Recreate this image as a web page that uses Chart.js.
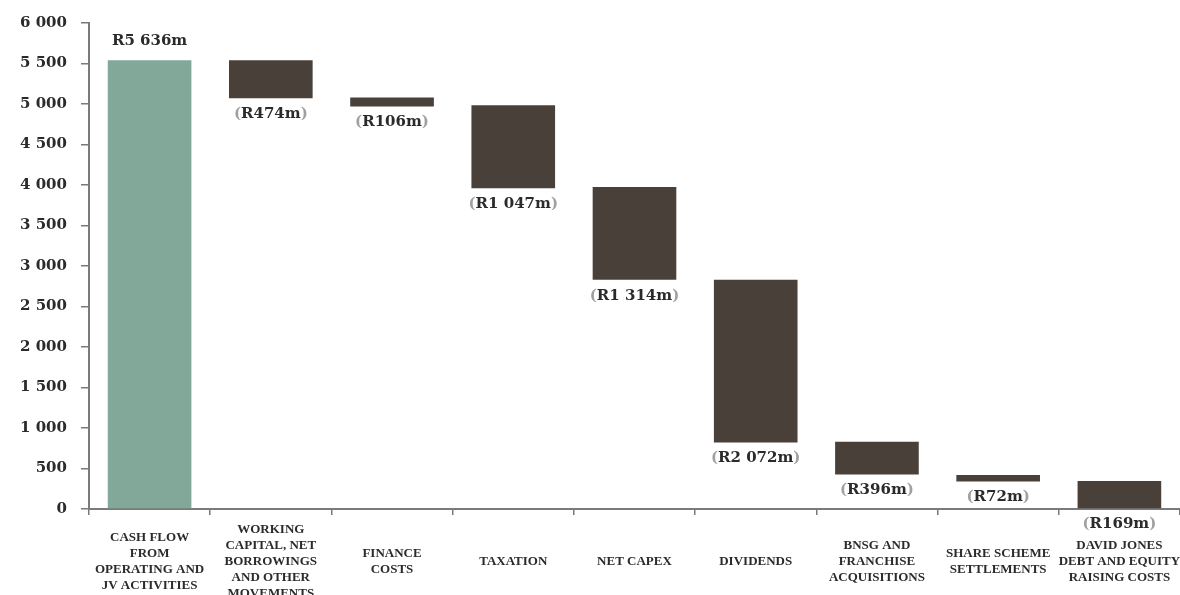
<!DOCTYPE html>
<html>
<head>
<meta charset="utf-8">
<script src="https://cdn.jsdelivr.net/npm/chart.js@4.4.1/dist/chart.umd.min.js"></script>
<style>
  html, body { margin: 0; padding: 0; background: #fff; overflow: hidden; }
  #wrap { position: relative; width: 1180px; height: 625px; }
</style>
</head>
<body>
<div id="wrap"><canvas id="cashChart"></canvas></div>
<script>
// categories along the bottom
const categories = [
    ['CASH FLOW', 'FROM', 'OPERATING AND', 'JV ACTIVITIES'],
    ['WORKING', 'CAPITAL, NET', 'BORROWINGS', 'AND OTHER', 'MOVEMENTS'],
    ['FINANCE', 'COSTS'],
    'TAXATION',
    'NET CAPEX',
    'DIVIDENDS',
    ['BNSG AND', 'FRANCHISE', 'ACQUISITIONS'],
    ['SHARE SCHEME', 'SETTLEMENTS'],
    ['DAVID JONES', 'DEBT AND EQUITY', 'RAISING COSTS']
];
// floating bar ends, as drawn (Rm)
const barLow  = [0,    5070, 4970, 3960, 2830, 820,  425, 340, 0];
const barHigh = [5540, 5540, 5080, 4985, 3975, 2830, 830, 420, 345];
// value labels
const valueLabels = ['R5 636m', 'R474m', 'R106m', 'R1 047m', 'R1 314m', 'R2 072m', 'R396m', 'R72m', 'R169m'];
const isOutflow = [false, true, true, true, true, true, true, true, true];

const greenColor = '#82a89a';
const brownColor = '#4a403a';
const axisGrey = '#7a7a7a';

const valueLabelPlugin = {
    id: 'valueLabels',
    afterDatasetsDraw(chart) {
        const ctx = chart.ctx;
        const meta = chart.getDatasetMeta(0);
        ctx.save();
        ctx.font = 'bold 15px "DejaVu Serif"';
        ctx.textBaseline = 'middle';
        meta.data.forEach(function (bar, i) {
            const top = Math.min(bar.y, bar.base);
            const bottom = Math.max(bar.y, bar.base);
            const text = valueLabels[i];
            if (!isOutflow[i]) {
                ctx.fillStyle = '#2b2b2b';
                ctx.textAlign = 'center';
                ctx.fillText(text, bar.x, top - 19);
            } else {
                const y = bottom + 16;
                const wOpen = ctx.measureText('(').width;
                const wText = ctx.measureText(text).width;
                const wClose = ctx.measureText(')').width;
                let x = bar.x - (wOpen + wText + wClose) / 2;
                ctx.textAlign = 'left';
                ctx.fillStyle = '#a0a0a0';
                ctx.fillText('(', x, y);
                x += wOpen;
                ctx.fillStyle = '#2b2b2b';
                ctx.fillText(text, x, y);
                x += wText;
                ctx.fillStyle = '#a0a0a0';
                ctx.fillText(')', x, y);
            }
        });
        ctx.restore();
    }
};

const ctx = document.getElementById('cashChart').getContext('2d');
const cashChart = new Chart(ctx, {
    type: 'bar',
    data: {
        labels: categories,
        datasets: [{
            data: barLow.map(function (lo, i) { return [lo, barHigh[i]]; }),
            backgroundColor: isOutflow.map(function (o) { return o ? brownColor : greenColor; }),
            borderWidth: 0,
            barPercentage: 0.69,
            categoryPercentage: 1
        }]
    },
    options: {
        responsive: true,
        maintainAspectRatio: false,
        animation: false,
        layout: { padding: { top: 15, left: 6, right: 0, bottom: 0 } },
        plugins: {
            legend: { display: false },
            tooltip: { enabled: false }
        },
        scales: {
            x: {
                // let the last label run to the page edge like the original
                afterFit: function (scale) {
                    scale.paddingLeft = 0;
                    scale.paddingRight = 0;
                },
                grid: {
                    offset: true,
                    drawOnChartArea: false,
                    drawTicks: true,
                    tickLength: 6,
                    color: axisGrey,
                    lineWidth: 1.5
                },
                border: { color: axisGrey, width: 2 },
                ticks: {
                    autoSkip: false,
                    maxRotation: 0,
                    crossAlign: 'center',
                    padding: 15,
                    color: '#2b2b2b',
                    font: { family: '"Liberation Serif"', weight: 'bold', size: 13, lineHeight: '16px' }
                }
            },
            y: {
                min: 0,
                max: 6000,
                grid: {
                    drawOnChartArea: false,
                    drawTicks: true,
                    tickLength: 8,
                    color: axisGrey,
                    lineWidth: 1.5
                },
                border: { color: axisGrey, width: 2 },
                ticks: {
                    stepSize: 500,
                    padding: 14,
                    color: '#2b2b2b',
                    font: { family: '"DejaVu Serif"', weight: 'bold', size: 15 },
                    callback: function (v) {
                        return String(v).replace(/\B(?=(\d{3})+(?!\d))/g, ' ');
                    }
                }
            }
        }
    },
    plugins: [valueLabelPlugin]
});
</script>
</body>
</html>
